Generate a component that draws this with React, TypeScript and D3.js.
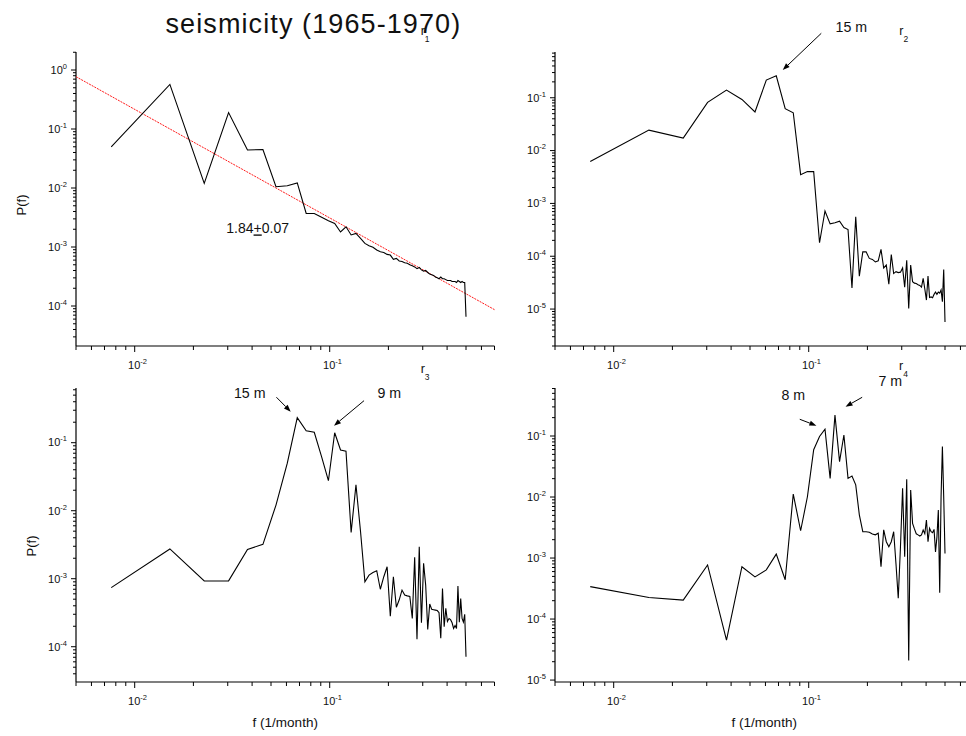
import React from 'react';
import * as d3 from 'd3';

// ---------- DATA ----------
// frequencies (1/month) of the spectral estimates
const FREQ = [
  0.00758, 0.01515, 0.02273, 0.0303, 0.03788, 0.04545, 0.05303, 0.06061, 0.06818, 0.07576,
  0.08333, 0.09091, 0.09848, 0.10606, 0.11364, 0.12121, 0.12879, 0.13636, 0.14394, 0.15152,
  0.15909, 0.16667, 0.17424, 0.18182, 0.18939, 0.19697, 0.20455, 0.21212, 0.2197, 0.22727,
  0.23485, 0.24242, 0.25, 0.25758, 0.26515, 0.27273, 0.2803, 0.28788, 0.29545, 0.30303,
  0.31061, 0.31818, 0.32576, 0.33333, 0.34091, 0.34848, 0.35606, 0.36364, 0.37121, 0.37879,
  0.38636, 0.39394, 0.40152, 0.40909, 0.41667, 0.42424, 0.43182, 0.43939, 0.44697, 0.45455,
  0.46212, 0.4697, 0.47727, 0.48485, 0.49242, 0.5,
];

const P_R1 = [
  0.05, 0.57, 0.012, 0.19, 0.044, 0.045, 0.0105, 0.0109, 0.0122, 0.0037,
  0.0037, 0.0032, 0.0028, 0.0025, 0.0018, 0.0022, 0.0016, 0.0017, 0.0014, 0.00115,
  0.00105, 0.00099, 0.00089, 0.00083, 0.00081, 0.00075, 0.00073, 0.00062, 0.00064, 0.00058,
  0.00057, 0.00054, 0.00053, 0.0005, 0.00048, 0.00046, 0.00043, 0.00045, 0.00041, 0.00039,
  0.0004, 0.00037, 0.00035, 0.00034, 0.00033, 0.00031, 0.0003, 0.00029, 0.00031, 0.00029,
  0.00029, 0.00028, 0.00027, 0.00027, 0.00027, 0.00026, 0.00026, 0.00026, 0.00025, 0.00027,
  0.00026, 0.00025, 0.00026, 0.00025, 0.00025, 0.000066,
];

const P_R2 = [
  0.0062, 0.0244, 0.0173, 0.082, 0.14, 0.093, 0.054, 0.216, 0.26, 0.062,
  0.052, 0.0035, 0.004, 0.004, 0.00018, 0.00072, 0.00041, 0.00043, 0.00046, 0.00035,
  0.00032, 0.000025, 0.00056, 0.000042, 0.000121, 0.000121, 0.000091, 0.000087, 0.000078, 0.000082,
  0.000135, 0.00006, 0.000068, 0.0000296, 0.000108, 0.000047, 0.000051, 0.000049, 0.00005, 0.00006,
  0.000026, 0.000084, 0.0000103, 0.000068, 0.000033, 0.000031, 0.0000305, 0.000029, 0.000028, 0.000026,
  0.000038, 0.000024, 0.0000148, 0.000042, 0.0000166, 0.000017, 0.0000164, 0.000019, 0.000021, 0.000019,
  0.000021, 0.00002, 0.000023, 0.0000138, 0.000056, 0.0000057,
];

const P_R3 = [
  0.00074, 0.00274, 0.000925, 0.00093, 0.0027, 0.0032, 0.0121, 0.05, 0.233, 0.15,
  0.142, 0.062, 0.0276, 0.14, 0.078, 0.075, 0.0048, 0.024, 0.0049, 0.0009,
  0.00113, 0.00123, 0.00131, 0.0007, 0.00107, 0.0015, 0.00028, 0.00107, 0.00038, 0.00049,
  0.00068, 0.000575, 0.00056, 0.00055, 0.00026, 0.00206, 0.000129, 0.00295, 0.000225, 0.00168,
  0.0008, 0.00018, 0.000425, 0.000355, 0.00035, 0.000345, 0.00034, 0.000316, 0.000133, 0.00072,
  0.000197, 0.000367, 0.000235, 0.00026, 0.00025, 0.000225, 0.000186, 0.000205, 0.000185, 0.00078,
  0.00023, 0.00051, 0.00026, 0.00023, 0.0003, 0.000071,
];

const P_R4 = [
  0.00034, 0.000226, 0.000204, 0.00077, 0.000045, 0.00072, 0.00049, 0.00064, 0.00116, 0.00044,
  0.0112, 0.0028, 0.0101, 0.0595, 0.098, 0.129, 0.0202, 0.22, 0.038, 0.104,
  0.0202, 0.022, 0.0158, 0.0051, 0.0027, 0.0027, 0.00265, 0.00247, 0.0024, 0.00255,
  0.00072, 0.0029, 0.00185, 0.00153, 0.00185, 0.0027, 0.0008, 0.00022, 0.0015, 0.0139,
  0.00105, 0.0195, 0.000021, 0.013, 0.0037, 0.003, 0.0025, 0.0024, 0.0023, 0.0024,
  0.00288, 0.0025, 0.0042, 0.00185, 0.00307, 0.0027, 0.0026, 0.00295, 0.00126, 0.0022,
  0.0061, 0.00027, 0.01, 0.067, 0.01, 0.00119,
];

// power-law fit of r1: P = A * f^-beta
const FIT_EXPONENT = 1.84;
const FIT_AMPLITUDE = 4.5e-5;
const FIT_LABEL = ['1.84', '+', '0.07'];

const X_DOMAIN: [number, number] = [0.005, 0.7];
const Y_DOMAIN_R1: [number, number] = [2.1e-5, 2.02];
const Y_DOMAIN_R2: [number, number] = [2.0e-6, 0.735];
const Y_DOMAIN_R3: [number, number] = [3.03e-5, 0.637];
const Y_DOMAIN_R4: [number, number] = [9.3e-6, 0.612];

const TITLE = 'seismicity (1965-1970)';
const X_LABEL = 'f (1/month)';
const Y_LABEL = 'P(f)';

// annotations in data coordinates: label anchor, arrow tail, arrow tip
type Note = { text: string; label: [number, number]; tail: [number, number]; tip: [number, number] };
const NOTES_R2: Note[] = [
  { text: '15 m', label: [0.1374, 1.78], tail: [0.116, 1.66], tip: [0.0736, 0.335] },
];
const NOTES_R3: Note[] = [
  { text: '15 m', label: [0.0323, 0.454], tail: [0.0533, 0.466], tip: [0.0631, 0.286] },
  { text: '9 m', label: [0.1757, 0.454], tail: [0.15, 0.415], tip: [0.1052, 0.178] },
];
const NOTES_R4: Note[] = [
  { text: '8 m', label: [0.0725, 0.389], tail: [0.09, 0.188], tip: [0.1095, 0.1476] },
  { text: '7 m', label: [0.2279, 0.66], tail: [0.188, 0.431], tip: [0.1545, 0.302] },
];

// ---------- LAYOUT ----------
const W = 966;
const H = 736;
const FONT = "'Liberation Sans', Arial, Helvetica, sans-serif";
const PW = 418.5;
const PH = 294;

type PanelProps = {
  left: number;
  top: number;
  yDomain: [number, number];
  values: number[];
  name: string;
  nameDx: number;
  nameDy: number;
  notes: Note[];
  showXLabel?: boolean;
  yLabelPos?: [number, number];
  fit?: boolean;
};

function isMajor(v: number) {
  const l = Math.log10(v);
  return Math.abs(l - Math.round(l)) < 1e-6;
}

function Arrow({ x1, y1, x2, y2 }: { x1: number; y1: number; x2: number; y2: number }) {
  const dx = x2 - x1;
  const dy = y2 - y1;
  const len = Math.hypot(dx, dy);
  const ux = dx / len;
  const uy = dy / len;
  const hl = 7;
  const hw = 2.6;
  const bx = x2 - ux * hl;
  const by = y2 - uy * hl;
  const pts = `${x2},${y2} ${bx - uy * hw},${by + ux * hw} ${bx + uy * hw},${by - ux * hw}`;
  return (
    <g>
      <line x1={x1} y1={y1} x2={bx} y2={by} stroke="#000" strokeWidth={1} />
      <polygon points={pts} fill="#000" />
    </g>
  );
}

function Panel(p: PanelProps) {
  const x = d3.scaleLog().domain(X_DOMAIN).range([p.left, p.left + PW]);
  const y = d3.scaleLog().domain(p.yDomain).range([p.top + PH, p.top]);
  const bottom = p.top + PH;
  const line = d3
    .line<number>()
    .x((_, i) => x(FREQ[i]))
    .y((d) => y(d));
  const xt = x.ticks();
  const yt = y.ticks();
  const fitLine = d3
    .line<number>()
    .x((f) => x(f))
    .y((f) => y(FIT_AMPLITUDE * Math.pow(f, -FIT_EXPONENT)));

  return (
    <g>
      {/* axes lines */}
      <line x1={p.left} y1={p.top} x2={p.left} y2={bottom} stroke="#000" strokeWidth={1.2} />
      <line x1={p.left} y1={bottom} x2={p.left + PW} y2={bottom} stroke="#000" strokeWidth={1.2} />
      {/* y ticks */}
      {yt.map((v, i) => {
        const yy = y(v);
        const maj = isMajor(v);
        return (
          <line key={'yt' + i} x1={p.left - (maj ? 5 : 3)} x2={p.left} y1={yy} y2={yy} stroke="#000" strokeWidth={1} />
        );
      })}
      {yt.filter(isMajor).map((v, i) => (
        <text key={'yl' + i} x={p.left - 9} y={y(v) + 3.8} textAnchor="end" fontSize={11} fontFamily={FONT} fill="#111">
          10
          <tspan dy={-5} fontSize={7.5}>
            {String(Math.round(Math.log10(v)))}
          </tspan>
        </text>
      ))}
      {/* x ticks */}
      {xt.map((v, i) => {
        const xx = x(v);
        const maj = isMajor(v);
        return (
          <line key={'xt' + i} x1={xx} x2={xx} y1={bottom} y2={bottom + (maj ? 6 : 4)} stroke="#000" strokeWidth={1} />
        );
      })}
      {xt.filter(isMajor).map((v, i) => (
        <text key={'xl' + i} x={x(v) - 6.6} y={bottom + 23} fontSize={11} fontFamily={FONT} fill="#111">
          10
          <tspan dy={-5} fontSize={7.5}>
            {String(Math.round(Math.log10(v)))}
          </tspan>
        </text>
      ))}
      {/* fit */}
      {p.fit && (
        <path d={fitLine(X_DOMAIN) || ''} fill="none" stroke="#ff1a1a" strokeWidth={1} strokeDasharray="2 1" />
      )}
      {/* data */}
      <path d={line(p.values) || ''} fill="none" stroke="#000" strokeWidth={1.1} strokeLinejoin="miter" />
      {/* panel name */}
      <text x={p.left + p.nameDx} y={p.top + p.nameDy} fontSize={12.5} fontFamily={FONT} fill="#111">
        r
        <tspan dy={6.5} fontSize={8.5}>
          {p.name}
        </tspan>
      </text>
      {/* notes */}
      {p.notes.map((n, i) => (
        <g key={'n' + i}>
          <text x={x(n.label[0])} y={y(n.label[1])} fontSize={14.2} fontFamily={FONT} fill="#111">
            {n.text}
          </text>
          <Arrow x1={x(n.tail[0])} y1={y(n.tail[1])} x2={x(n.tip[0])} y2={y(n.tip[1])} />
        </g>
      ))}
      {p.showXLabel && (
        <text x={p.left + PW / 2} y={bottom + 45} textAnchor="middle" fontSize={13.5} fontFamily={FONT} fill="#111">
          {X_LABEL}
        </text>
      )}
      {p.yLabelPos && (
        <text
          transform={`translate(${p.yLabelPos[0]},${p.yLabelPos[1]}) rotate(-90)`}
          textAnchor="middle"
          fontSize={13}
          fontFamily={FONT}
          fill="#111"
        >
          {Y_LABEL}
        </text>
      )}
      {p.fit && (
        <text x={x(0.0295)} y={y(0.0017)} fontSize={14} fontFamily={FONT} fill="#111">
          {FIT_LABEL[0]}
          <tspan style={{ textDecoration: 'underline' }}>{FIT_LABEL[1]}</tspan>
          {FIT_LABEL[2]}
        </text>
      )}
    </g>
  );
}

export default function App() {
  return (
    <svg
      width={W}
      height={H}
      viewBox={`0 0 ${W} ${H}`}
      style={{ position: 'absolute', left: 0, top: 0, background: '#fff' }}
    >
      <rect x={0} y={0} width={W} height={H} fill="#fff" />
      <text x={165.5} y={33} fontSize={27} letterSpacing={1.1} fontFamily={FONT} fill="#111">
        {TITLE}
      </text>
      <Panel left={76} top={52} yDomain={Y_DOMAIN_R1} values={P_R1} name="1" nameDx={344.7} nameDy={-17} notes={[]} yLabelPos={[26, 205]} fit />
      <Panel left={555} top={52} yDomain={Y_DOMAIN_R2} values={P_R2} name="2" nameDx={344.3} nameDy={-17} notes={NOTES_R2} />
      <Panel left={76} top={388} yDomain={Y_DOMAIN_R3} values={P_R3} name="3" nameDx={344.7} nameDy={-14.7} notes={NOTES_R3} showXLabel yLabelPos={[36, 546]} />
      <Panel left={555} top={388} yDomain={Y_DOMAIN_R4} values={P_R4} name="4" nameDx={344} nameDy={-18} notes={NOTES_R4} showXLabel />
    </svg>
  );
}
